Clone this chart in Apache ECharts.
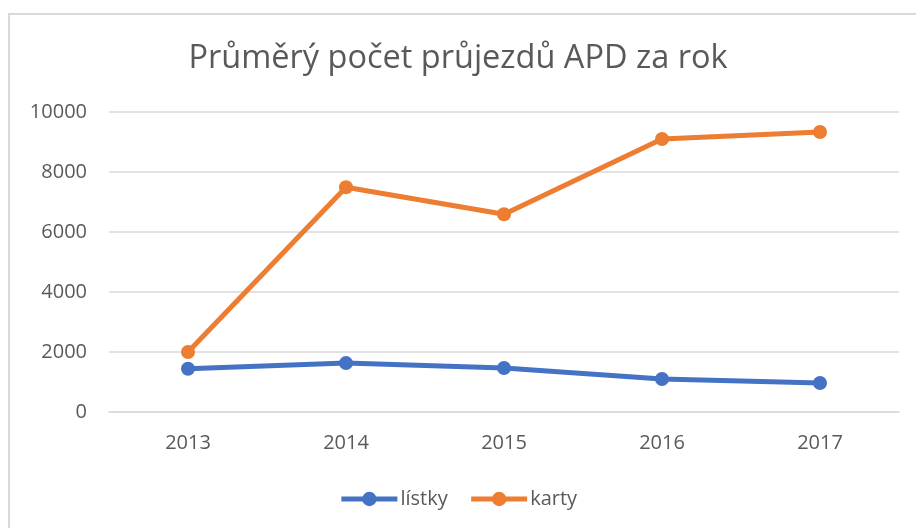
<!DOCTYPE html>
<html>
<head>
<meta charset="utf-8">
<script src="https://cdn.jsdelivr.net/npm/echarts@6/dist/echarts.min.js"></script>
<style>
html,body{margin:0;padding:0;background:#fff;}
#c{width:916px;height:528px;}
</style>
</head>
<body>
<div id="c"></div>
<script>
const titleText = 'Průměrý počet průjezdů APD za rok';
const years = ['2013', '2014', '2015', '2016', '2017'];
const listky = [1440, 1630, 1465, 1100, 965];
const karty = [2000, 7490, 6590, 9100, 9335];
const seriesNames = ['lístky', 'karty'];

const FONT = 'Open Sans';
const TXT = '#595959';
const chart = echarts.init(document.getElementById('c'), null, {renderer: 'canvas'});
chart.setOption({
  backgroundColor: '#fff',
  animation: false,
  graphic: [{
    type: 'rect',
    shape: {x: 9, y: 14, width: 930, height: 540},
    style: {fill: 'none', stroke: '#D9D9D9', lineWidth: 2},
    silent: true
  }],
  title: {
    text: titleText,
    left: 'center',
    top: 37,
    textStyle: {fontFamily: FONT, fontSize: 32.5, fontWeight: 'normal', color: TXT}
  },
  grid: {left: 109, right: 17, top: 112, bottom: 116, containLabel: false},
  xAxis: {
    type: 'category',
    data: years,
    boundaryGap: true,
    axisLine: {show: true, lineStyle: {color: '#D9D9D9', width: 1.5}},
    axisTick: {show: false},
    axisLabel: {fontFamily: FONT, fontSize: 20, color: TXT, margin: 21}
  },
  yAxis: {
    type: 'value',
    min: 0, max: 10000, interval: 2000,
    axisLine: {show: false},
    axisTick: {show: false},
    splitLine: {lineStyle: {color: '#D9D9D9', width: 1.5}},
    axisLabel: {fontFamily: FONT, fontSize: 20, color: TXT, margin: 22, formatter: function (v) { return String(v); }}
  },
  legend: {
    bottom: 14,
    left: 'center',
    itemWidth: 56,
    itemHeight: 18,
    itemGap: 21,
    lineStyle: {width: 5},
    textStyle: {fontFamily: FONT, fontSize: 20, color: TXT, padding: [0, 0, 0, -2]},
    data: seriesNames
  },
  series: [
    {
      name: seriesNames[0], type: 'line', data: listky,
      symbol: 'circle', symbolSize: 14,
      lineStyle: {color: '#4472C4', width: 5},
      itemStyle: {color: '#4472C4'}
    },
    {
      name: seriesNames[1], type: 'line', data: karty,
      symbol: 'circle', symbolSize: 14,
      lineStyle: {color: '#ED7D31', width: 5},
      itemStyle: {color: '#ED7D31'}
    }
  ]
});
</script>
</body>
</html>
